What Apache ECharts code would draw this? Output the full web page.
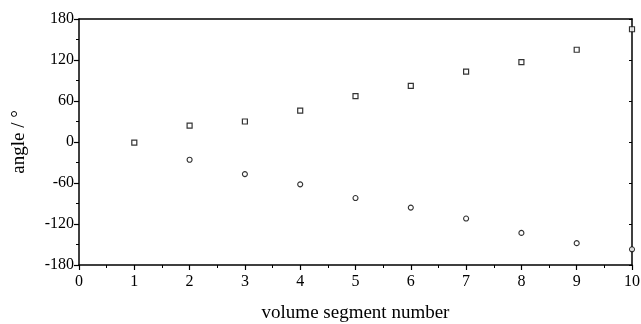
<!DOCTYPE html>
<html>
<head>
<meta charset="utf-8">
<script src="https://cdn.jsdelivr.net/npm/echarts@6/dist/echarts.min.js"></script>
<style>html,body{margin:0;padding:0;background:#fff;}#c{width:641px;height:324px;}</style>
</head>
<body>
<div id="c"></div>
<script>
const segments = [1, 2, 3, 4, 5, 6, 7, 8, 9, 10];
const squareAngles = [-1, 24, 30, 46, 67, 82, 103, 117, 135, 165];
const circleSegments = [2, 3, 4, 5, 6, 7, 8, 9, 10];
const circleAngles = [-26, -47, -62, -82, -96, -112, -133, -148, -157];
const xTicks = [0, 1, 2, 3, 4, 5, 6, 7, 8, 9, 10];
const yTicks = [-180, -120, -60, 0, 60, 120, 180];

const font = '"Liberation Serif", "DejaVu Serif", serif';
const chart = echarts.init(document.getElementById('c'), null, {renderer: 'canvas'});
const axisLine = {show: true, onZero: false, lineStyle: {color: '#000', width: 1.5}};
chart.setOption({
  animation: false,
  backgroundColor: '#fff',
  grid: {left: 79, right: 9, top: 19, bottom: 59, show: false, containLabel: false, outerBoundsMode: 'none'},
  xAxis: [{
    type: 'value', min: 0, max: 10, interval: 1,
    name: 'volume segment number', nameLocation: 'middle', nameGap: 39,
    nameTextStyle: {fontFamily: font, fontSize: 19, color: '#000'},
    axisLine: axisLine,
    axisTick: {show: true, inside: false, length: 5, lineStyle: {color: '#000', width: 1.2}},
    minorTick: {show: true, splitNumber: 2, length: 3, lineStyle: {color: '#000', width: 1}},
    axisLabel: {fontFamily: font, fontSize: 16, color: '#000', margin: 9,
      formatter: v => xTicks.includes(v) ? String(v) : ''},
    splitLine: {show: false}
  }, {
    type: 'value', min: 0, max: 10, interval: 1, position: 'top',
    axisLine: axisLine, axisTick: {show: false}, axisLabel: {show: false}, splitLine: {show: false}
  }],
  yAxis: [{
    type: 'value', min: -180, max: 180, interval: 60,
    name: 'angle / °', nameLocation: 'middle', nameGap: 50, nameRotate: 90,
    nameTextStyle: {fontFamily: font, fontSize: 19, color: '#000'},
    axisLine: axisLine,
    axisTick: {show: true, inside: false, length: 5, lineStyle: {color: '#000', width: 1.2}},
    minorTick: {show: true, splitNumber: 2, length: 3, lineStyle: {color: '#000', width: 1}},
    axisLabel: {fontFamily: font, fontSize: 16, color: '#000', margin: 5,
      formatter: v => yTicks.includes(v) ? String(v) : ''},
    splitLine: {show: false}
  }, {
    type: 'value', min: -180, max: 180, interval: 60, position: 'right',
    axisLine: axisLine,
    axisTick: {show: true, inside: true, length: 3, lineStyle: {color: '#000'}},
    axisLabel: {show: false}, splitLine: {show: false}
  }],
  series: [{
    type: 'scatter', symbol: 'rect', symbolSize: 5,
    itemStyle: {color: '#fff', borderColor: '#000', borderWidth: 1.2},
    data: segments.map((s, i) => [s, squareAngles[i]]),
    clip: false
  }, {
    type: 'scatter', symbol: 'circle', symbolSize: 5,
    itemStyle: {color: '#fff', borderColor: '#000', borderWidth: 1.1},
    data: circleSegments.map((s, i) => [s, circleAngles[i]]),
    clip: false
  }]
});
</script>
</body>
</html>
